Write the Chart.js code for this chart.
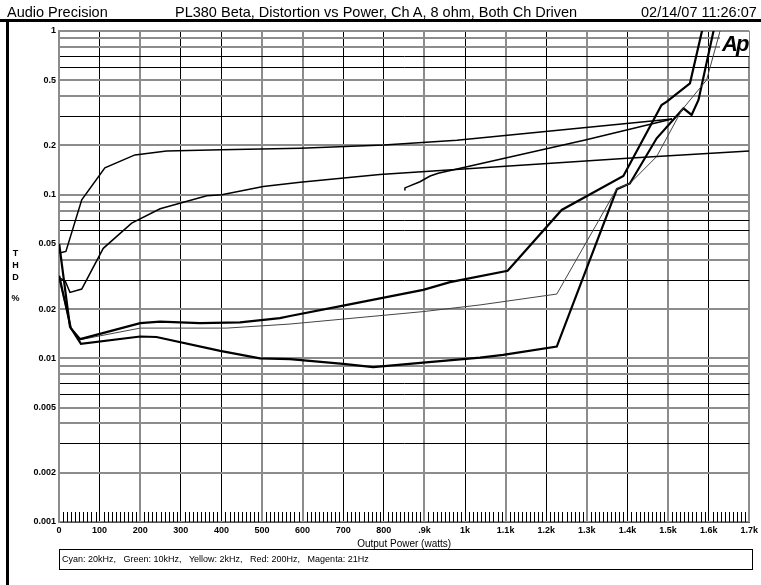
<!DOCTYPE html>
<html>
<head>
<meta charset="utf-8">
<script src="https://cdn.jsdelivr.net/npm/chart.js@4.4.0/dist/chart.umd.min.js"></script>
<style>
body { margin: 0; background: #fff; }
#wrap { position: relative; width: 761px; height: 585px; overflow: hidden; font-family: 'Liberation Sans', Arial, sans-serif; color: #000; }
canvas { position: absolute; left: 0; top: 0; }
.hdr { position: absolute; top: 4px; font-size: 14.5px; line-height: 16px; white-space: nowrap; }
#topbar { position: absolute; left: 0; top: 19px; width: 761px; height: 3px; background: #000; }
#leftbar { position: absolute; left: 6px; top: 19px; width: 3px; height: 566px; background: #000; }
#ytitle { position: absolute; left: 11px; top: 247px; width: 9px; text-align: center; font-size: 9px; line-height: 12px; font-weight: bold; }
#ypct { position: absolute; left: 11px; top: 292px; width: 9px; text-align: center; font-size: 9px; line-height: 12px; font-weight: bold; }
#logo { position: absolute; left: 720px; top: 32px; padding: 0 2px; background: #fff; font-size: 22px; line-height: 24px; font-weight: bold; font-style: italic; letter-spacing: -2px; }
#legendbox { position: absolute; left: 59px; top: 549px; width: 690px; height: 19px; border: 1px solid #000; font-size: 9px; line-height: 19px; padding-left: 2px; white-space: pre; }
</style>
</head>
<body>
<div id="wrap">
<canvas id="thd" width="761" height="585"></canvas>
<div class="hdr" style="left:7px">Audio Precision</div>
<div class="hdr" style="left:175px">PL380 Beta, Distortion vs Power, Ch A, 8 ohm, Both Ch Driven</div>
<div class="hdr" style="left:641px">02/14/07 11:26:07</div>
<div id="topbar"></div>
<div id="leftbar"></div>
<div id="ytitle">T<br>H<br>D</div>
<div id="ypct">%</div>
<div id="logo">Ap</div>
<div id="legendbox">Cyan: 20kHz,   Green: 10kHz,   Yellow: 2kHz,   Red: 200Hz,   Magenta: 21Hz</div>
</div>
<script>
// tick labels
var xTickLabels = ["0","100","200","300","400","500","600","700","800",".9k","1k","1.1k","1.2k","1.3k","1.4k","1.5k","1.6k","1.7k"];
var yTickLabels = ["0.001","0.002","0.005","0.01","0.02","0.05","0.1","0.2","0.5","1"];

// 20kHz sweep (watts / THD %)
var w20k   = [1, 17, 56, 113, 187, 265, 400, 594, 800, 980, 1510];
var thd20k = [0.044, 0.045, 0.093, 0.146, 0.175, 0.185, 0.188, 0.192, 0.201, 0.215, 0.29];
// late segment that starts at 850 W
var w20kB   = [850, 852, 889, 914, 934, 1296, 1510];
var thd20kB = [0.107, 0.110, 0.120, 0.130, 0.135, 0.216, 0.29];
// 10kHz
var w10k   = [1, 15, 27, 56, 109, 179, 249, 364, 401, 503, 594, 790, 1400, 1700];
var thd10k = [0.031, 0.0298, 0.0253, 0.0265, 0.047, 0.067, 0.082, 0.0986, 0.1, 0.112, 0.119, 0.133, 0.167, 0.185];
// 2kHz
var w2k   = [0.5, 29, 52, 200, 249, 347, 446, 544, 569, 700, 897, 963, 1105, 1238, 1390, 1484, 1497, 1554, 1591];
var thd2k = [0.032, 0.0153, 0.0131, 0.0164, 0.01675, 0.0164, 0.0166, 0.0176, 0.01815, 0.021, 0.0262, 0.0292, 0.0343, 0.0806, 0.130, 0.353, 0.370, 0.479, 1.2];
// 200Hz
var w200   = [0.5, 29, 52, 200, 282, 413, 569, 897, 1037, 1226, 1374, 1406, 1472, 1534, 1595, 1637];
var thd200 = [0.03, 0.0155, 0.013, 0.0153, 0.0153, 0.0153, 0.0162, 0.0193, 0.0212, 0.0247, 0.109, 0.117, 0.171, 0.329, 0.502, 1.2];
// 21Hz
var w21   = [0.5, 27, 54, 200, 240, 397, 495, 569, 700, 774, 897, 1037, 1094, 1226, 1374, 1406, 1472, 1538, 1558, 1575, 1619];
var thd21 = [0.05, 0.0156, 0.01225, 0.0136, 0.0135, 0.0111, 0.0100, 0.0099, 0.00925, 0.00883, 0.00941, 0.0101, 0.0105, 0.0118, 0.108, 0.117, 0.221, 0.337, 0.307, 0.379, 1.2];

function pts(xs, ys) {
  var out = [];
  for (var i in xs) out.push({x: xs[i], y: ys[i]});
  return out;
}

function curve(label, xs, ys, width, color) {
  return {
    label: label,
    data: pts(xs, ys),
    borderColor: color,
    borderWidth: width,
    pointRadius: 0,
    tension: 0,
    fill: false
  };
}

var tickFont = {family: "'Liberation Sans', Arial, sans-serif", size: 9, weight: "bold"};
var greyX = [0, 200, 500, 600, 900, 1100, 1300, 1500, 1700];

// little 10 W marks along the bottom
var minorTicks = {
  id: "minorTicks",
  beforeDatasetsDraw: function(chart) {
    var ctx = chart.ctx, xs = chart.scales.x, bottom = chart.chartArea.bottom;
    ctx.save();
    ctx.strokeStyle = "#000";
    ctx.lineWidth = 1;
    ctx.beginPath();
    for (var v = 10; v < 1700; v += 10) {
      if (v % 100 === 0) continue;
      var px = Math.round(xs.getPixelForValue(v)) + 0.5;
      ctx.moveTo(px, bottom);
      ctx.lineTo(px, bottom - 10);
    }
    ctx.stroke();
    ctx.restore();
  }
};

new Chart("thd", {
  type: "line",
  data: {
    datasets: [
      curve("Cyan: 20kHz", w20k, thd20k, 1.5, "#000"),
      curve("Cyan: 20kHz (late)", w20kB, thd20kB, 1.5, "#000"),
      curve("Green: 10kHz", w10k, thd10k, 1.5, "#000"),
      curve("Yellow: 2kHz", w2k, thd2k, 2.2, "#000"),
      curve("Red: 200Hz", w200, thd200, 1, "#444"),
      curve("Magenta: 21Hz", w21, thd21, 2.2, "#000")
    ]
  },
  plugins: [minorTicks],
  options: {
    responsive: false,
    animation: false,
    devicePixelRatio: 1,
    layout: {padding: {left: 0, top: 31, right: 11, bottom: 35}},
    plugins: {legend: {display: false}, tooltip: {enabled: false}},
    scales: {
      x: {
        type: "linear",
        min: 0,
        max: 1700,
        afterFit: function(s) { s.height = 28; },
        ticks: {
          stepSize: 100,
          autoSkip: false,
          maxRotation: 0,
          padding: 3,
          color: "#000",
          font: tickFont,
          callback: function(v, i) { return xTickLabels[i]; }
        },
        grid: {
          drawTicks: false,
          color: function(c) { return greyX.indexOf(c.tick.value) >= 0 ? "#8c8c8c" : "#000"; },
          lineWidth: function(c) { return greyX.indexOf(c.tick.value) >= 0 ? 2 : 1; }
        },
        border: {display: true, color: "#555", width: 1},
        title: {
          display: true,
          text: "Output Power (watts)",
          color: "#000",
          padding: {top: 0, bottom: 0},
          font: {family: "'Liberation Sans', Arial, sans-serif", size: 10}
        }
      },
      y: {
        type: "logarithmic",
        min: 0.001,
        max: 1,
        afterFit: function(s) { s.width = 59; },
        afterBuildTicks: function(s) {
          var t = [];
          for (var d = 1000; d >= 10; d = d / 10) {
            for (var m = 1; m <= 9; m++) t.push({value: m / d});
          }
          t.push({value: 1});
          s.ticks = t;
        },
        ticks: {
          autoSkip: false,
          padding: 3,
          color: "#000",
          font: tickFont,
          callback: function(v) {
            var s = String(v);
            return yTickLabels.indexOf(s) >= 0 ? s : "";
          }
        },
        grid: {
          drawTicks: false,
          color: function(c) {
            var v = c.tick.value, m = Math.round(v / Math.pow(10, Math.floor(Math.log10(v) + 1e-9)));
            return (m === 3 || m === 6 || m === 7) ? "#000" : "#8c8c8c";
          },
          lineWidth: function(c) {
            var v = c.tick.value, m = Math.round(v / Math.pow(10, Math.floor(Math.log10(v) + 1e-9)));
            return (m === 3 || m === 6 || m === 7) ? 1 : 2;
          }
        },
        border: {display: true, color: "#8c8c8c", width: 2}
      }
    }
  }
});
</script>
</body>
</html>
